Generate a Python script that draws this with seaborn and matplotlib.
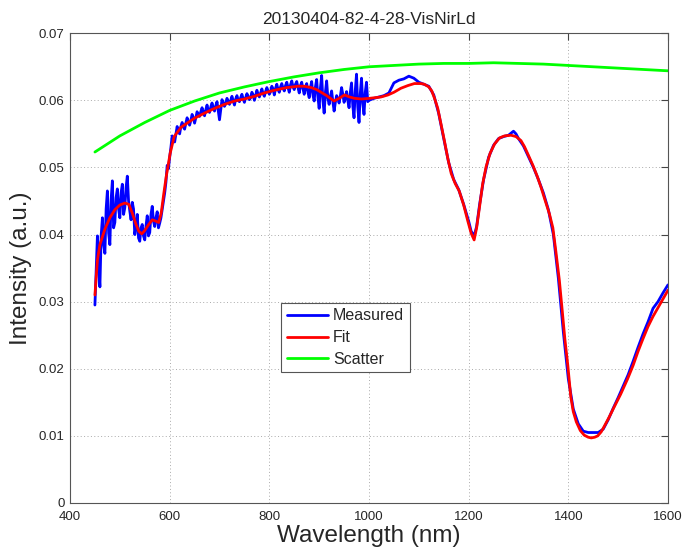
import numpy as np
import pandas as pd
import matplotlib
matplotlib.use("Agg")
import matplotlib.pyplot as plt
import seaborn as sns

# Measured spectrum, visible part: readings on the 5 nm grid ...
measured_vis_nm = np.arange(450, 1001, 5)
measured_vis = [
    0.0295, 0.0398, 0.0322, 0.0425, 0.0372, 0.0465, 0.0385, 0.0480, 0.0418, 0.0468,
    0.0425, 0.0475, 0.0440, 0.0487, 0.0435, 0.0448, 0.0400, 0.0430, 0.0390, 0.0415,
    0.0392, 0.0428, 0.0403, 0.0442, 0.0412, 0.0434, 0.0417, 0.0437, 0.0462, 0.0503,
    0.0515, 0.0547, 0.0538, 0.0561, 0.0550, 0.0567, 0.0557, 0.0574, 0.0563, 0.0579,
    0.0566, 0.0583, 0.0576, 0.0589, 0.0577, 0.0593, 0.0582, 0.0596, 0.0584, 0.0598,
    0.0571, 0.0601, 0.0591, 0.0603, 0.0594, 0.0606, 0.0593, 0.0607, 0.0598, 0.0609,
    0.0597, 0.0610, 0.0601, 0.0612, 0.0600, 0.0615, 0.0605, 0.0617, 0.0606, 0.0619,
    0.0609, 0.0621, 0.0608, 0.0624, 0.0612, 0.0625, 0.0614, 0.0627, 0.0612, 0.0629,
    0.0616, 0.0628, 0.0611, 0.0627, 0.0609, 0.0625, 0.0604, 0.0628, 0.0599, 0.0631,
    0.0588, 0.0637, 0.0581, 0.0629, 0.0594, 0.0614, 0.0584, 0.0607, 0.0596, 0.0619,
    0.0597, 0.0613, 0.0589, 0.0626, 0.0574, 0.0639, 0.0567, 0.0633, 0.0579, 0.0627,
    0.0600,
]
# ... and the readings halfway between them
measured_vis_mid_nm = np.arange(452.5, 1000, 5)
measured_vis_mid = [
    0.0345, 0.0352, 0.0398, 0.0385, 0.0438, 0.0402, 0.0452, 0.0410, 0.0455, 0.0438,
    0.0462, 0.0430, 0.0470, 0.0450, 0.0422, 0.0438, 0.0412, 0.0395, 0.0410, 0.0398,
    0.0413, 0.0398, 0.0430, 0.0420, 0.0425, 0.0410, 0.0425, 0.0450, 0.0478, 0.0498,
    0.0530, 0.0542, 0.0550, 0.0553, 0.0561, 0.0560, 0.0566, 0.0568, 0.0570, 0.0574,
    0.0574, 0.0579, 0.0583, 0.0582, 0.0586, 0.0584, 0.0590, 0.0589, 0.0592, 0.0585,
    0.0586, 0.0597, 0.0595, 0.0598, 0.0600, 0.0599, 0.0602, 0.0600, 0.0604, 0.0602,
    0.0604, 0.0606, 0.0604, 0.0608, 0.0607, 0.0609, 0.0611, 0.0610, 0.0613, 0.0614,
    0.0613, 0.0617, 0.0618, 0.0616, 0.0620, 0.0618, 0.0622, 0.0619, 0.0623, 0.0620,
    0.0624, 0.0619, 0.0622, 0.0617, 0.0620, 0.0612, 0.0619, 0.0608, 0.0620, 0.0605,
    0.0618, 0.0600, 0.0612, 0.0603, 0.0606, 0.0598, 0.0597, 0.0603, 0.0606, 0.0609,
    0.0604, 0.0600, 0.0612, 0.0592, 0.0615, 0.0590, 0.0610, 0.0596, 0.0612, 0.0598,
]
# Measured spectrum, NIR part
measured_nir_nm = [
    1010, 1020, 1030, 1040, 1050, 1060, 1070, 1080, 1090, 1100,
    1110, 1120, 1130, 1140, 1150, 1160, 1170, 1180, 1190, 1200,
    1205, 1211, 1216, 1222, 1230, 1240, 1250, 1260, 1270, 1280,
    1285, 1290, 1295, 1300, 1310, 1320, 1330, 1340, 1350, 1360,
    1370, 1380, 1390, 1400, 1410, 1420, 1430, 1440, 1450, 1460,
    1470, 1480, 1490, 1500, 1510, 1520, 1530, 1540, 1550, 1560,
    1570, 1580, 1590, 1600,
]
measured_nir = [
    0.0603, 0.0605, 0.0607, 0.0611, 0.0626, 0.0630, 0.0632, 0.0636, 0.0633, 0.0627,
    0.0624, 0.0621, 0.0608, 0.0580, 0.0543, 0.0507, 0.0482, 0.0467, 0.0445, 0.0420,
    0.0405, 0.0398, 0.0412, 0.0445, 0.0482, 0.0515, 0.0533, 0.0543, 0.0546, 0.0548,
    0.0551, 0.0554, 0.0550, 0.0543, 0.0532, 0.0516, 0.0500, 0.0482, 0.0462, 0.0437,
    0.0400, 0.0335, 0.0255, 0.0185, 0.0140, 0.0118, 0.0107, 0.0105, 0.0105, 0.0105,
    0.0110, 0.0124, 0.0141, 0.0157, 0.0174, 0.0191, 0.0211, 0.0232, 0.0252, 0.0270,
    0.0290, 0.0300, 0.0313, 0.0325,
]

# Model fit
fit_nm = [
    450, 455, 460, 470, 480, 490, 500, 510, 518, 525, 532, 538, 544, 550, 557, 565,
    572, 578, 583, 588, 593, 601, 609, 623, 649, 670, 690, 710, 730, 750, 770, 790,
    810, 835, 857, 870, 884, 895, 904, 915, 930, 940, 951, 961, 971, 985, 1001, 1024,
    1038, 1050, 1064, 1078, 1091, 1104, 1111, 1120, 1126, 1132, 1138, 1145, 1151, 1158,
    1165, 1173, 1181, 1190, 1198, 1205, 1211, 1216, 1222, 1228, 1235, 1243, 1252, 1262,
    1272, 1285, 1295, 1305, 1312, 1320, 1329, 1337, 1345, 1353, 1362, 1369, 1375, 1382,
    1388, 1393, 1399, 1405, 1410, 1416, 1424, 1432, 1440, 1446, 1453, 1459, 1466, 1472,
    1482, 1492, 1505, 1519, 1530, 1540, 1550, 1560, 1570, 1580, 1590, 1600,
]
fit = [
    0.0310, 0.0362, 0.0385, 0.0408, 0.0425, 0.0437, 0.0444, 0.0447, 0.0445, 0.0432,
    0.0416, 0.0405, 0.0401, 0.0406, 0.0414, 0.0422, 0.0420, 0.0418, 0.0432, 0.0460,
    0.0486, 0.0521, 0.0546, 0.0560, 0.0573, 0.0581, 0.0588, 0.0594, 0.0599, 0.0602,
    0.0606, 0.0611, 0.0615, 0.0619, 0.0621, 0.0621, 0.0619, 0.0616, 0.0612, 0.0607,
    0.0599, 0.0603, 0.0608, 0.0605, 0.0603, 0.0602, 0.0603, 0.0605, 0.0608, 0.0612,
    0.0618, 0.0622, 0.0625, 0.0625, 0.0624, 0.0620, 0.0614, 0.0602, 0.0588, 0.0563,
    0.0541, 0.0514, 0.0491, 0.0476, 0.0465, 0.0444, 0.0421, 0.0402, 0.0392, 0.0410,
    0.0442, 0.0475, 0.0501, 0.0521, 0.0535, 0.0544, 0.0547, 0.0548, 0.0546, 0.0540,
    0.0531, 0.0518, 0.0503, 0.0488, 0.0471, 0.0452, 0.0431, 0.0410, 0.0375, 0.0332,
    0.0285, 0.0245, 0.0205, 0.0158, 0.0136, 0.0121, 0.0108, 0.0101, 0.0098, 0.0097,
    0.0098, 0.0100, 0.0106, 0.0114, 0.0128, 0.0143, 0.0162, 0.0185, 0.0205, 0.0226,
    0.0245, 0.0263, 0.0278, 0.0291, 0.0304, 0.0317,
]

# Scattering background
scatter_nm = [450, 500, 550, 600, 650, 700, 750, 800, 850, 900, 950, 1000,
              1050, 1100, 1150, 1200, 1250, 1300, 1350, 1400, 1450, 1500, 1550, 1600]
scatter = [0.0523, 0.0547, 0.0567, 0.0585, 0.0599, 0.0611, 0.0620, 0.0628,
           0.0635, 0.0641, 0.0646, 0.0650, 0.0652, 0.0654, 0.0655, 0.0655,
           0.0656, 0.0655, 0.0654, 0.0652, 0.0650, 0.0648, 0.0646, 0.0644]

x_ticks = [400, 600, 800, 1000, 1200, 1400, 1600]
y_ticks = [0, 0.01, 0.02, 0.03, 0.04, 0.05, 0.06, 0.07]
y_tick_labels = ["0", "0.01", "0.02", "0.03", "0.04", "0.05", "0.06", "0.07"]

measured_df = pd.DataFrame({
    "nm": np.concatenate([measured_vis_nm, measured_vis_mid_nm, measured_nir_nm]),
    "val": np.concatenate([measured_vis, measured_vis_mid, measured_nir]),
}).sort_values("nm")
fit_df = pd.DataFrame({"nm": fit_nm, "val": fit})
scatter_df = pd.DataFrame({"nm": scatter_nm, "val": scatter})

sns.set_style("white")
plt.rcParams["font.family"] = ["Liberation Sans", "DejaVu Sans"]

fig = plt.figure(figsize=(6.83, 5.52), dpi=100)
ax = fig.add_axes([0.1025, 0.0888, 0.8755, 0.851])

lw = 2.0
sns.lineplot(data=measured_df, x="nm", y="val", ax=ax, color="#0000ff", lw=lw,
             sort=False, estimator=None, label="Measured")
sns.lineplot(data=fit_df, x="nm", y="val", ax=ax, color="#ff0000", lw=lw,
             sort=False, estimator=None, label="Fit")
sns.lineplot(data=scatter_df, x="nm", y="val", ax=ax, color="#00ff00", lw=lw,
             sort=False, estimator=None, label="Scatter")

ax.set_xlim(400, 1600)
ax.set_ylim(0, 0.07)
ax.set_xticks(x_ticks)
ax.set_yticks(y_ticks)
ax.set_yticklabels(y_tick_labels)
ax.tick_params(direction="in", top=True, right=True, length=5, width=0.8,
               labelsize=9.5, color="#444444")
ax.tick_params(axis="x", pad=6)
ax.tick_params(axis="y", pad=4)
ax.grid(True, linestyle=(0, (1, 2.5)), color="#aaaaaa", linewidth=0.7)
for s in ax.spines.values():
    s.set_color("#555555")
    s.set_linewidth(0.8)

ax.set_xlabel("Wavelength (nm)", fontsize=17.5, labelpad=1)
ax.set_ylabel("Intensity (a.u.)", fontsize=17.5, labelpad=5)
ax.set_title("20130404-82-4-28-VisNirLd", fontsize=12.5, pad=7)

leg = ax.legend(loc="lower left", bbox_to_anchor=(0.353, 0.278), fontsize=11.5,
                frameon=True, fancybox=False, framealpha=1, edgecolor="#555555",
                handlelength=2.6, borderpad=0.35, labelspacing=0.42,
                handletextpad=0.3, borderaxespad=0)
leg.get_frame().set_linewidth(0.8)

fig.savefig("out.png", dpi=100, facecolor="white")
